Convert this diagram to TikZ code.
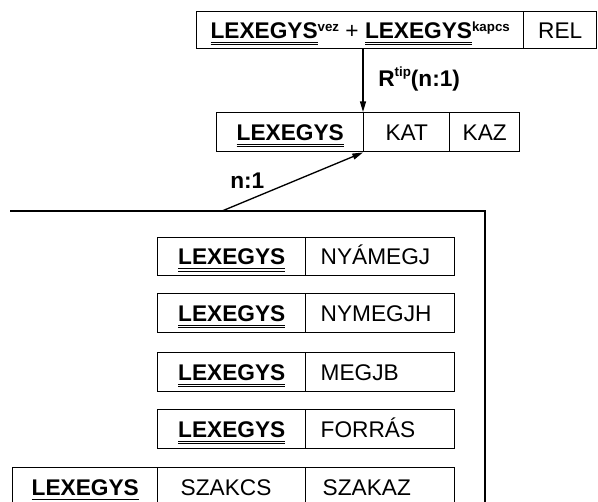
\documentclass[tikz,border=0pt]{standalone}
\usepackage{fontspec}
\setmainfont{Liberation Sans}
\usetikzlibrary{arrows.meta}
\newsavebox\dulbox
\newcommand\dul[1]{\sbox\dulbox{#1}\rlap{\smash{\rule[-3.4pt]{\wd\dulbox}{0.8pt}}}\rlap{\smash{\rule[-5.2pt]{\wd\dulbox}{0.8pt}}}\usebox\dulbox}
\newcommand\sps[2][5pt]{\raisebox{#1}{\fontsize{10}{10}\selectfont\bfseries #2}}
\newcommand\LX{\dul{\textbf{LEXEGYS}}}
\begin{document}
\begin{tikzpicture}[x=0.75pt,y=-0.75pt,
  cell/.style={draw, line width=1.1pt, inner sep=0pt, anchor=north west,
    text height=12.2pt, text depth=0pt, font=\fontsize{17}{20}\selectfont},
  lcell/.style={cell, align=left},
  lbl/.style={inner sep=0pt, anchor=base west, font=\bfseries\fontsize{17}{20}\selectfont},
  arr/.style={line width=1pt, -{Triangle[length=8pt,width=4.5pt]}},
  frame/.style={line width=1.1pt}]
\useasboundingbox (0,0) rectangle (598,501);
\clip (0,0) rectangle (598,501);
% top relation
\node[cell, minimum width=245.25pt, minimum height=27.75pt] (T1) at (196,11)
  {\LX\sps{vez} + \LX\sps{kapcs}};
\node[cell, minimum width=54.75pt, minimum height=27.75pt] (T2) at (523,11) {REL};
% middle relation
\node[cell, minimum width=110.25pt, minimum height=29.25pt] (M1) at (216,112) {\LX};
\node[cell, minimum width=64.5pt, minimum height=29.25pt] (M2) at (363,112) {KAT};
\node[cell, minimum width=52.5pt, minimum height=29.25pt] (M3) at (449,112) {KAZ};
\draw[arr] (T1.south -| M2.north west) -- (M2.north west);
\node[lbl] (rtip) at (378,86) {R\sps[7pt]{tip}(n:1)};
% frame
\coordinate (F) at (222,211);
\draw[frame] (10,211) -- (485,211) -- (485,520);
\draw[arr] (F) -- (M2.south west);
\node[lbl] (n1) at (230,188) {n:1};
% rows
\node[cell, minimum width=111pt, minimum height=28.5pt] (A1) at (157,237) {\LX};
\node[lcell, text width=111.75pt, minimum height=28.5pt] (A2) at (305,237) {\hspace*{11.25pt}NYÁMEGJ};
\node[cell, minimum width=111pt, minimum height=29.25pt] (B1) at (157,293) {\LX};
\node[lcell, text width=111.75pt, minimum height=29.25pt] (B2) at (305,293) {\hspace*{11.25pt}NYMEGJH};
\node[cell, minimum width=111pt, minimum height=29.25pt] (C1) at (157,352) {\LX};
\node[lcell, text width=111.75pt, minimum height=29.25pt] (C2) at (305,352) {\hspace*{11.25pt}MEGJB};
\node[cell, minimum width=111pt, minimum height=29.25pt] (D1) at (157,409) {\LX};
\node[lcell, text width=111.75pt, minimum height=29.25pt] (D2) at (305,409) {\hspace*{11.25pt}FORRÁS};
\node[cell, minimum width=108.75pt, minimum height=30pt] (E1) at (12,467) {\LX};
\node[lcell, text width=111pt, minimum height=30pt] (E2) at (157,467) {\hspace*{17.25pt}SZAKCS};
\node[lcell, text width=111.75pt, minimum height=30pt] (E3) at (305,467) {\hspace*{12.75pt}SZAKAZ};
\end{tikzpicture}
\end{document}
